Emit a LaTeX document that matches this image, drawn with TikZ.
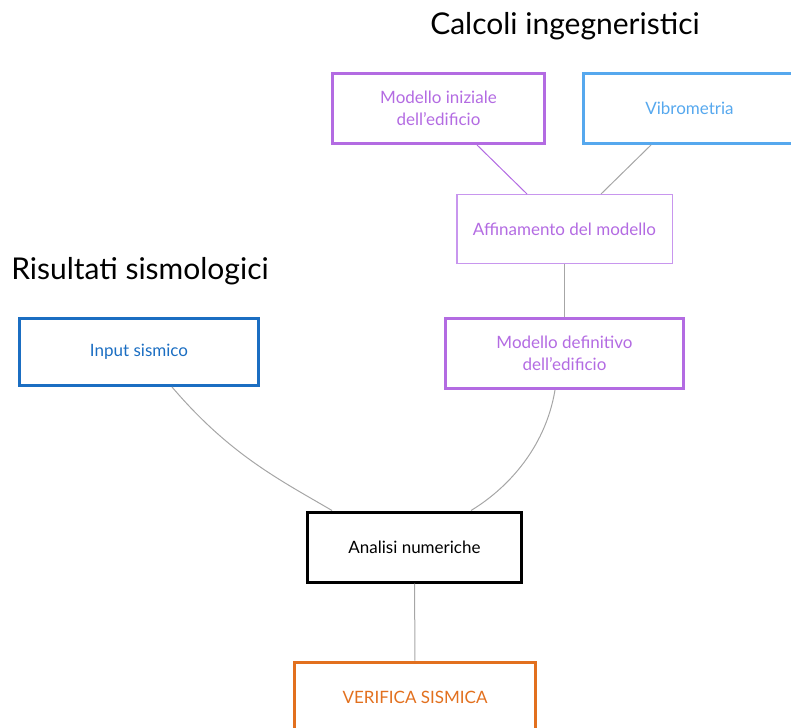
\documentclass[tikz,border=0pt]{standalone}
\usepackage{fontspec}
\setmainfont{Lato}
\usetikzlibrary{positioning}

\definecolor{viola}{RGB}{179,107,226}
\definecolor{violachiaro}{RGB}{200,150,238}
\definecolor{celeste}{RGB}{86,168,238}
\definecolor{blu}{RGB}{27,110,194}
\definecolor{arancio}{RGB}{226,112,30}
\definecolor{grigio}{RGB}{166,166,166}

\tikzset{
    blocco/.style={draw, line width=3pt, minimum width=212pt, minimum height=70pt,
                   inner sep=4pt, align=center, font=\fontsize{17}{22}\selectfont},
    titolo/.style={font=\fontsize{30}{36}\selectfont},
    legame/.style={draw=grigio, line width=1pt}
}

\begin{document}
\begin{tikzpicture}[x=1pt, y=-1pt]
            \useasboundingbox (0,0) rectangle (791,727);
            \clip (0,0) rectangle (791,727);

            % titoli
            \node[titolo] (calcoli) at (565,26) {Calcoli ingegneristici};
            \node[titolo] (risultati) at (140,271) {Risultati sismologici};

            % blocchi
            \node[blocco, draw=viola, text=viola] (iniziale) at (438.5,108.5)
                {Modello iniziale\\dell’edificio};
            \node[blocco, draw=celeste, text=celeste] (vibro) at (689.5,108.5)
                {Vibrometria};
            \node[blocco, draw=violachiaro, text=viola, line width=1.5pt,
                  minimum width=215.5pt, minimum height=68.5pt] (affinamento) at (564.5,229)
                {Affinamento del modello};
            \node[blocco, draw=viola, text=viola, minimum width=238pt] (definitivo) at (564.5,353.5)
                {Modello definitivo\\dell’edificio};
            \node[blocco, draw=blu, text=blu, minimum width=239pt, minimum height=67pt] (input) at (139,352)
                {Input sismico};
            \node[blocco, draw=black, text=black, minimum width=214pt] (analisi) at (414.5,547)
                {Analisi numeriche};
            \node[blocco, draw=arancio, text=arancio, minimum width=241pt] (verifica) at (415,697)
                {VERIFICA SISMICA};

            % collegamenti
            \draw[legame, draw=viola] ([xshift=38.5pt]iniziale.south) -- ([xshift=-37.5pt]affinamento.north);
            \draw[legame] ([xshift=-38.5pt]vibro.south) -- ([xshift=36.5pt]affinamento.north);
            \draw[legame] (affinamento) -- (definitivo);
            \draw[legame] ([xshift=33pt]input.south) .. controls (230,455) and (280,480) .. ([xshift=-82.5pt]analisi.north);
            \draw[legame] ([xshift=-9.5pt]definitivo.south) .. controls (545,450) and (505,490) .. ([xshift=56.5pt]analisi.north);
            \draw[legame] (analisi) -- (verifica);
        \end{tikzpicture}
\end{document}
